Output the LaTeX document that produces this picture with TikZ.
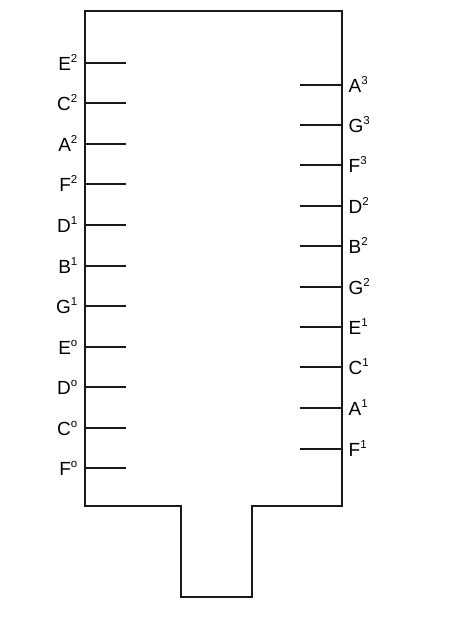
\documentclass[tikz,border=0pt]{standalone}
\usepackage{fontspec}
\setmainfont{Liberation Sans}
\usetikzlibrary{positioning}

\newcommand{\apice}[1]{\raisebox{0.42em}{\fontsize{11.5}{12}\selectfont #1}}

\begin{document}
\begin{tikzpicture}[x=1pt, y=-1pt, line width=1.3pt, draw=black!90,
	font=\fontsize{19}{20}\selectfont]
	
	\useasboundingbox (0,0) rectangle (455,619);
	
	% Contorno esterno con il gambo in basso
	\draw (85,11) -- (342,11) -- (342,506) -- (252,506) -- (252,597)
	-- (181,597) -- (181,506) -- (85,506) -- cycle;
	
	% Tacche a sinistra
	\foreach \nome/\testo/\y in {e2/E\apice{2}/63, c2/C\apice{2}/103,
		a2/A\apice{2}/144, f2/F\apice{2}/184, d1/D\apice{1}/225,
		b1/B\apice{1}/266, g1/G\apice{1}/306, e0/E\apice{o}/347,
		d0/D\apice{o}/387, c0/C\apice{o}/428, f0/F\apice{o}/468} {
		\coordinate (sx-\nome) at (85,\y);
		\coordinate (sxe-\nome) at (126,\y);
		\draw (sx-\nome) -- (sxe-\nome);
		\node[anchor=base east, inner sep=0pt] (tsx-\nome) at (78,\y+7) {\testo};
	}
	
	% Tacche a destra
	\foreach \nome/\testo/\y in {a3/A\apice{3}/85, g3/G\apice{3}/125,
		f3/F\apice{3}/165, d2/D\apice{2}/206, b2/B\apice{2}/246,
		g2/G\apice{2}/287, e1/E\apice{1}/327, c1/C\apice{1}/367,
		a1/A\apice{1}/408, f1/F\apice{1}/449} {
		\coordinate (dx-\nome) at (342,\y);
		\coordinate (dxe-\nome) at (300,\y);
		\draw (dxe-\nome) -- (dx-\nome);
		\node[anchor=base west, inner sep=0pt] (tdx-\nome) at (348,\y+7) {\testo};
	}
	
\end{tikzpicture}
\end{document}
